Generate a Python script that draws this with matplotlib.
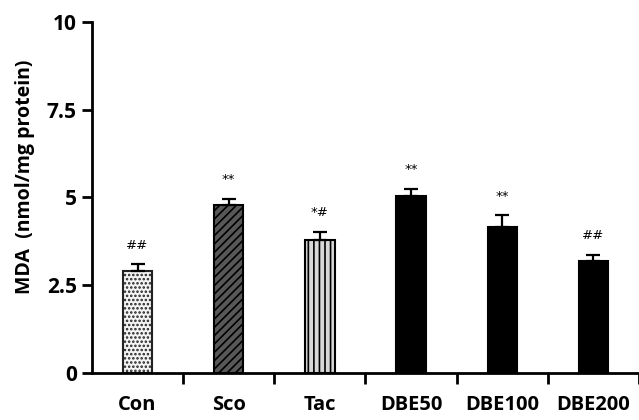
import numpy as np
import matplotlib
matplotlib.use("Agg")
import matplotlib.pyplot as plt

plt.rcParams['font.family'] = ['Open Sans', 'DejaVu Sans']
plt.rcParams['hatch.linewidth'] = 1.2

# data
groups = ["Con", "Sco", "Tac", "DBE50", "DBE100", "DBE200"]
mda = [2.91, 4.78, 3.80, 5.05, 4.15, 3.20]
sem = [0.20, 0.19, 0.23, 0.20, 0.34, 0.17]
marks = ["##", "**", "*#", "**", "**", "##"]

colors = ["#f4f4f4", "#585858", "#d8d8d8", "black", "black", "black"]
hatches = ["....", "////", "|||", None, None, None]

fig = plt.figure(figsize=(6.39, 4.2), dpi=100)
ax = fig.add_axes([92/639, 47/420, 547/639, 351/420])

x = np.arange(len(groups))
bars = ax.bar(x, mda, width=0.32, color=colors, edgecolor="black", linewidth=1.5, zorder=2)
for b, h in zip(bars, hatches):
    if h:
        b.set_hatch(h)
bars[0].set_edgecolor("#222222")
ax.errorbar(x, mda, yerr=[np.zeros(len(sem)), sem], fmt="none", ecolor="black",
            elinewidth=1.6, capsize=5, capthick=1.6, zorder=3)

for xi, m, s, t in zip(x, mda, sem, marks):
    ax.text(xi, m + s + 0.35, t, ha="center", va="bottom", fontsize=9.5, family="DejaVu Sans")

ax.set_xlim(-0.5, 5.5)
ax.set_ylim(0, 10)
ax.set_yticks([0, 2.5, 5, 7.5, 10])
ax.set_yticklabels(["0", "2.5", "5", "7.5", "10"], fontsize=15, fontweight="bold")
ax.set_xticks(x)
ax.set_xticklabels(groups, fontsize=14.5, fontweight="bold")
ax.set_xticks(np.arange(0.5, 6, 1), minor=True)
ax.tick_params(axis="x", which="major", length=0, pad=16)
ax.tick_params(axis="x", which="minor", length=8, width=2, direction="out")
ax.tick_params(axis="y", length=7, width=2, direction="out", pad=4)
ax.set_ylabel("MDA  (nmol/mg protein)", fontsize=14, fontweight="bold")
ax.yaxis.set_label_coords(-0.105, 0.56)

for s in ["top", "right"]:
    ax.spines[s].set_visible(False)
for s in ["left", "bottom"]:
    ax.spines[s].set_linewidth(2)

fig.savefig("out.png", dpi=100)
